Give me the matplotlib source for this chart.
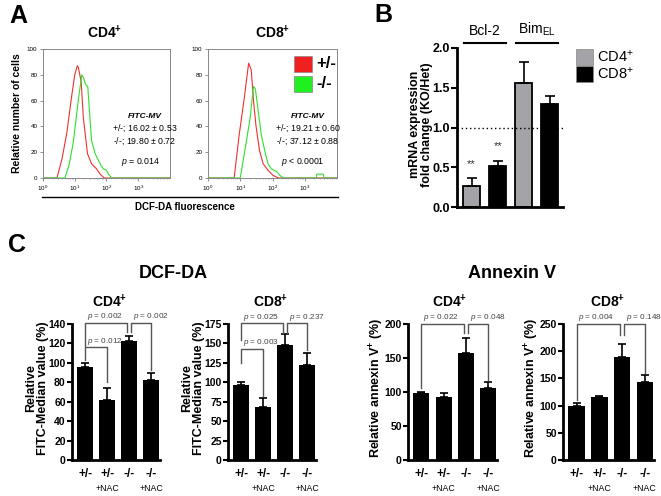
import matplotlib.pyplot as plt
from matplotlib.patches import Rectangle
import numpy as np

plt.rcParams['font.family'] = ['Liberation Sans', 'DejaVu Sans']
plt.rcParams['mathtext.fontset'] = 'custom'
plt.rcParams['mathtext.rm'] = 'Liberation Sans'
plt.rcParams['mathtext.it'] = 'Liberation Sans:italic'
plt.rcParams['mathtext.bf'] = 'Liberation Sans:bold'

W, H = 661, 496

# --- A: DCF-DA histograms (log10 fluorescence, % of max)
cd4_het_x = [0.0, 0.44, 0.6, 0.75, 0.9, 1.0, 1.08, 1.11, 1.2, 1.27, 1.4, 1.53, 1.69, 1.8, 1.93, 4.0]
cd4_het_y = [0, 0, 15, 35, 63, 80, 87, 86, 75, 47, 19, 11, 7, 3, 0, 0]
cd4_ko_x = [0.0, 0.69, 0.82, 0.95, 1.11, 1.22, 1.27, 1.35, 1.41, 1.46, 1.53, 1.64, 1.8, 1.9, 2.0, 2.06, 2.17, 4.0]
cd4_ko_y = [0, 0, 10, 27, 60, 80, 78, 72, 71, 53, 29, 19, 11, 7, 6, 3, 0, 0]
cd8_het_x = [0.0, 0.81, 0.97, 1.13, 1.26, 1.34, 1.41, 1.49, 1.6, 1.71, 1.86, 2.02, 2.18, 4.0]
cd8_het_y = [0, 0, 34, 63, 89, 84, 60, 40, 21, 11, 6, 2, 0, 0]
cd8_ko_x = [0.0, 1.0, 1.18, 1.31, 1.41, 1.47, 1.55, 1.65, 1.76, 1.86, 1.97, 2.13, 2.23, 2.34, 3.36, 3.37, 3.58, 3.59, 4.0]
cd8_ko_y = [0, 0, 27, 47, 71, 69, 53, 34, 21, 11, 7, 5, 2, 0, 0, 3, 3, 0, 0]

# --- B: mRNA fold change KO/Het
genes = ['Bcl-2', 'Bim$_{\\mathregular{EL}}$']
mrna_cd4 = [0.27, 1.56]
mrna_cd4_err = [0.09, 0.26]
mrna_cd8 = [0.52, 1.29]
mrna_cd8_err = [0.06, 0.10]
mrna_stars = ['**', '']

# --- C: DCF-DA and annexin V, relative to +/-
groups = ['+/-', '+/-', '-/-', '-/-']
nac = ['', '+NAC', '', '+NAC']
dcf_cd4 = [95.5, 62, 123, 82]
dcf_cd4_err = [4.5, 12, 5, 8]
dcf_cd8 = [96, 68, 148.5, 122]
dcf_cd8_err = [4, 12, 13.5, 16]
ann_cd4 = [99, 93, 158, 106]
ann_cd4_err = [1.5, 6, 22, 8]
ann_cd8 = [99.5, 115, 189, 142.5]
ann_cd8_err = [4.5, 3, 25, 13.5]

# comparisons: (bar i, bar j, bracket level, left leg end, right leg end, p)
dcf_cd4_p = [(0, 1.9, 141, 117, 132, '0.002'), (0, 1, 116, 103, 80, '0.012'), (2.1, 3, 141, 132, 93, '0.002')]
dcf_cd8_p = [(0, 1.9, 176, 154, 164, '0.025'), (0, 1, 143, 125, 82, '0.003'), (2.1, 3, 176, 164, 142, '0.237')]
ann_cd4_p = [(0, 1.9, 200, 106, 187, '0.022'), (2.1, 3, 200, 187, 118, '0.048')]
ann_cd8_p = [(0, 1.9, 250, 110, 230, '0.004'), (2.1, 3, 250, 230, 160, '0.148')]


def rect(x0, y0, x1, y1):
    return [x0 / W, 1 - y1 / H, (x1 - x0) / W, (y1 - y0) / H]


def ftext(x, y, s, **kw):
    fig.text(x / W, 1 - y / H, s, ha=kw.pop('ha', 'center'), va=kw.pop('va', 'center'), **kw)


def fbox(x0, y0, x1, y1, color):
    fig.add_artist(Rectangle((x0 / W, 1 - y1 / H), (x1 - x0) / W, (y1 - y0) / H,
                             transform=fig.transFigure, facecolor=color, edgecolor='#888888', lw=0.5))


fig = plt.figure(figsize=(W / 100, H / 100), dpi=100)

# ---------------- panel A
def histo(ax, hx, hy, kx, ky):
    ax.plot(10 ** np.array(hx), hy, color='#f03030', lw=0.8)
    ax.plot(10 ** np.array(kx), ky, color='#30e030', lw=0.8)
    ax.set_xscale('log')
    ax.set_xlim(1, 1e4)
    ax.set_ylim(0, 100)
    ax.set_yticks(range(0, 101, 20))
    ax.set_xticks([1, 10, 100, 1000])
    ax.set_xticklabels(['$10^0$', '$10^1$', '$10^2$', '$10^3$'])
    ax.tick_params(labelsize=4.5, length=2, width=0.5, color='#666666', pad=2)
    ax.tick_params(which='minor', length=1, width=0.4, color='#888888')
    for s in ax.spines.values():
        s.set_color('#888888')
        s.set_linewidth(0.7)

axA1 = fig.add_axes(rect(43, 49, 170, 178))
histo(axA1, cd4_het_x, cd4_het_y, cd4_ko_x, cd4_ko_y)
axA2 = fig.add_axes(rect(208, 49, 337, 178))
histo(axA2, cd8_het_x, cd8_het_y, cd8_ko_x, cd8_ko_y)

ftext(18, 16, 'A', fontsize=18, fontweight='bold')
ftext(105, 33, 'CD4$^{\\mathregular{+}}$', fontsize=10, fontweight='bold')
ftext(273, 33, 'CD8$^{\\mathregular{+}}$', fontsize=10, fontweight='bold')
ftext(17, 113, 'Relative number of cells', fontsize=7.5, fontweight='bold', rotation=90)
fig.add_artist(plt.Line2D([42 / W, 338 / W], [1 - 197 / H] * 2, transform=fig.transFigure, color='black', lw=1))
ftext(185, 207, 'DCF-DA fluorescence', fontsize=7, fontweight='bold')

for cx, l1, l2, pv in [(145, '+/-; 16.02 $\\pm$ 0.53', '-/-; 19.80 $\\pm$ 0.72', '$p$ = 0.014'),
                       (308, '+/-; 19.21 $\\pm$ 0.60', '-/-; 37.12 $\\pm$ 0.88', '$p$ < 0.0001')]:
    ftext(cx, 117, 'FITC-MV', fontsize=6, fontweight='bold', fontstyle='italic')
    ftext(cx, 128, l1, fontsize=6.3)
    ftext(cx, 141, l2, fontsize=6.3)
    ftext(cx - 5, 162, pv, fontsize=6.3)

fbox(294, 56, 312, 72, '#f02020')
fbox(294, 76, 312, 92, '#20f020')
ftext(316, 64, '+/-', fontsize=12, fontweight='bold', ha='left')
ftext(316, 84, '-/-', fontsize=12, fontweight='bold', ha='left')

# ---------------- panel B
axB = fig.add_axes(rect(457, 48, 563, 207))
xb = np.arange(2)
axB.bar(xb * 2, mrna_cd4, width=0.65, color='#a3a3a8', edgecolor='black', lw=1.3)
axB.bar(xb * 2 + 1, mrna_cd8, width=0.65, color='black', edgecolor='black', lw=1.3)
axB.errorbar(xb * 2, mrna_cd4, yerr=[np.zeros(2), mrna_cd4_err], fmt='none', ecolor='black', elinewidth=1.2, capsize=3.5, capthick=1.2)
axB.errorbar(xb * 2 + 1, mrna_cd8, yerr=[np.zeros(2), mrna_cd8_err], fmt='none', ecolor='black', elinewidth=1.2, capsize=3.5, capthick=1.2)
axB.axhline(1.0, color='black', lw=1, ls=(0, (1, 2)))
axB.set_xlim(-0.56, 3.5)
axB.set_ylim(0, 2.0)
axB.set_yticks([0, 0.5, 1.0, 1.5, 2.0])
axB.set_yticklabels(['0.0', '0.5', '1.0', '1.5', '2.0'], fontweight='bold', fontsize=9)
axB.set_xticks([])
axB.spines[['top', 'right']].set_visible(False)
axB.spines[['left', 'bottom']].set_linewidth(2)
axB.tick_params(axis='y', length=4, width=1.5, pad=1)
axB.set_ylabel('mRNA expression\nfold change (KO/Het)', fontsize=9, fontweight='bold', linespacing=1.0)
axB.yaxis.set_label_coords(-0.23, 0.52)
for k, s in enumerate(mrna_stars):
    axB.text(2 * k, mrna_cd4[k] + mrna_cd4_err[k] + 0.12, s, ha='center', va='bottom', fontsize=8, color='#333333')
    axB.text(2 * k + 1, mrna_cd8[k] + mrna_cd8_err[k] + 0.12, s, ha='center', va='bottom', fontsize=8, color='#333333')
for k, g in enumerate(genes):
    axB.plot([2 * k - 0.3, 2 * k + 1.3], [2.06, 2.06], color='black', lw=1.5, clip_on=False)
    axB.text(2 * k + 0.5, 2.12, g, ha='center', va='bottom', fontsize=10)

ftext(383, 15, 'B', fontsize=18, fontweight='bold')
fbox(576, 49, 593, 65, '#a3a3a8')
fbox(576, 66, 593, 82, 'black')
ftext(597, 57, 'CD4$^{\\mathregular{+}}$', fontsize=10.5, ha='left')
ftext(597, 74, 'CD8$^{\\mathregular{+}}$', fontsize=10.5, ha='left')

# ---------------- panel C
def bar_panel(ax, vals, errs, ymax, step, comps, ylabel, lab_x):
    x = np.arange(4)
    ax.bar(x, vals, width=0.72, color='black')
    ax.errorbar(x, vals, yerr=[np.zeros(4), errs], fmt='none', ecolor='black', elinewidth=1.2, capsize=3, capthick=1.2)
    ax.set_xlim(-0.6, 3.4)
    ax.set_ylim(0, ymax)
    ax.set_yticks(np.arange(0, ymax + 1, step))
    ax.set_xticks(x)
    ax.set_xticklabels(groups, fontweight='bold', fontsize=8.5)
    for lab in ax.get_yticklabels():
        lab.set_fontweight('bold')
        lab.set_fontsize(7.5)
    ax.tick_params(axis='y', length=3.5, width=1.5, pad=1)
    ax.tick_params(axis='x', length=0, pad=6)
    ax.spines[['top', 'right']].set_visible(False)
    ax.spines[['left', 'bottom']].set_linewidth(2)
    for i, t in enumerate(nac):
        ax.text(i, -0.21, t, transform=ax.get_xaxis_transform(), ha='center', va='center', fontsize=6.3)
    for i, j, top, yl, yr, p in comps:
        ax.plot([i, i, j, j], [yl, top, top, yr], color='#555555', lw=1, clip_on=False)
        ax.text(i + 0.08, top + ymax * 0.004, '$p$ = ' + p, ha='left', va='bottom', fontsize=5.9, color='#444444')
    ax.set_ylabel(ylabel, fontsize=9, fontweight='bold', linespacing=1.0)
    ax.yaxis.set_label_coords(lab_x, 0.53)

axC1 = fig.add_axes(rect(72, 324, 160, 460))
bar_panel(axC1, dcf_cd4, dcf_cd4_err, 140, 20, dcf_cd4_p, 'Relative\nFITC-Median value (%)', -0.26)
axC2 = fig.add_axes(rect(228, 324, 316, 460))
bar_panel(axC2, dcf_cd8, dcf_cd8_err, 175, 25, dcf_cd8_p, 'Relative\nFITC-Median value (%)', -0.26)
axC3 = fig.add_axes(rect(408, 324, 497, 460))
bar_panel(axC3, ann_cd4, ann_cd4_err, 200, 50, ann_cd4_p, 'Relative annexin V$^{\\mathregular{+}}$ (%)', -0.245)
axC4 = fig.add_axes(rect(563, 324, 654, 460))
bar_panel(axC4, ann_cd8, ann_cd8_err, 250, 50, ann_cd8_p, 'Relative annexin V$^{\\mathregular{+}}$ (%)', -0.24)

ftext(17, 245, 'C', fontsize=18, fontweight='bold')
ftext(173, 273, 'DCF-DA', fontsize=13, fontweight='bold')
ftext(512, 273, 'Annexin V', fontsize=13, fontweight='bold')
for cx, t in [(110, 'CD4'), (271, 'CD8'), (450, 'CD4'), (608, 'CD8')]:
    ftext(cx, 302, t + '$^{\\mathregular{+}}$', fontsize=10, fontweight='bold')

fig.savefig('out.png', dpi=100)
